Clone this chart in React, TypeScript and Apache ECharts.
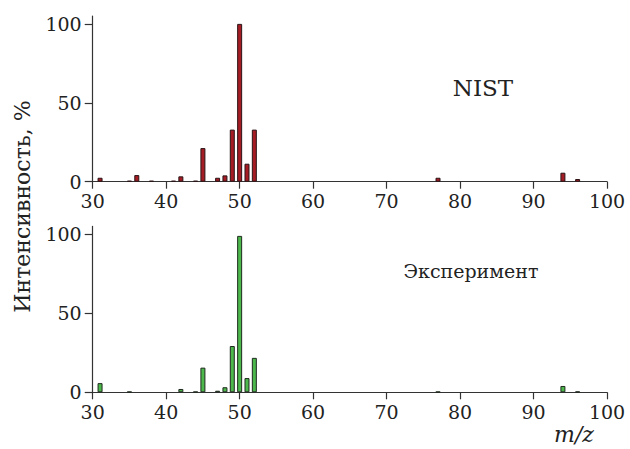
import React, { useEffect, useRef } from "react";
import * as echarts from "echarts";

const nistMz = [31, 35, 36, 38, 41, 42, 44, 45, 47, 48, 49, 50, 51, 52, 77, 94, 96];
const nistInt = [2.5, 0.6, 4.2, 0.6, 0.6, 3.4, 0.6, 21.3, 2.5, 4, 33, 100, 11.4, 33, 2.5, 5.7, 1.7];

const expMz = [31, 35, 42, 44, 45, 47, 48, 49, 50, 51, 52, 77, 94, 96];
const expInt = [5.8, 0.4, 2.1, 0.4, 15.6, 1, 3.2, 29.3, 99, 9, 21.8, 0.4, 4, 0.5];

const xTicks = [30, 40, 50, 60, 70, 80, 90, 100];
const yTicks = [0, 50, 100];

const FONT = "DejaVu Serif";
const INK = "#222";

export default function App() {
  const ref = useRef<HTMLDivElement>(null);
  useEffect(() => {
    const chart = echarts.init(ref.current!, null, { renderer: "svg" });
    const xAxisBase = (gridIndex: number) => ({
      type: "value" as const,
      gridIndex,
      min: xTicks[0],
      max: xTicks[xTicks.length - 1],
      interval: 10,
      axisLine: { onZero: false, lineStyle: { color: "#333", width: 1.2 } },
      axisTick: { length: 7, lineStyle: { color: "#333", width: 1.2 } },
      axisLabel: { fontFamily: FONT, fontSize: 19, color: INK, margin: 10 },
      splitLine: { show: false },
    });
    const yAxisBase = (gridIndex: number) => ({
      type: "value" as const,
      gridIndex,
      min: 0,
      max: 105,
      axisLine: { show: true, lineStyle: { color: "#333", width: 1.2 } },
      axisTick: { show: true, length: 8, customValues: yTicks, lineStyle: { color: "#333", width: 1.2 } },
      axisLabel: { fontFamily: FONT, fontSize: 19, color: INK, margin: 11, customValues: yTicks },
      splitLine: { show: false },
    });
    chart.setOption({
      animation: false,
      backgroundColor: "#fff",
      textStyle: { fontFamily: FONT },
      grid: [
        { left: 92.7, right: 23, top: 16, height: 165.7 },
        { left: 92.7, right: 23, top: 226.4, height: 165.9 },
      ],
      xAxis: [xAxisBase(0), xAxisBase(1)],
      yAxis: [yAxisBase(0), yAxisBase(1)],
      series: [
        {
          type: "bar",
          xAxisIndex: 0,
          yAxisIndex: 0,
          barWidth: 5,
          data: nistMz.map((m, i) => [m, nistInt[i]]),
          itemStyle: { color: "#a51c24", borderColor: "#2a1416", borderWidth: 1 },
        },
        {
          type: "bar",
          xAxisIndex: 1,
          yAxisIndex: 1,
          barWidth: 5,
          data: expMz.map((m, i) => [m, expInt[i]]),
          itemStyle: { color: "#4cb84c", borderColor: "#1e2a1e", borderWidth: 1 },
        },
      ],
      graphic: [
        {
          type: "text",
          x: 22,
          y: 206.5,
          rotation: Math.PI / 2,
          style: { text: "Интенсивность, %", fontFamily: FONT, fontSize: 22, fill: INK, textAlign: "center", textVerticalAlign: "middle" },
        },
        {
          type: "text",
          x: 483,
          y: 88,
          style: { text: "NIST", fontFamily: FONT, fontSize: 23, fill: INK, textAlign: "center", textVerticalAlign: "middle" },
        },
        {
          type: "text",
          x: 471,
          y: 271,
          style: { text: "Эксперимент", fontFamily: FONT, fontSize: 19, fill: INK, textAlign: "center", textVerticalAlign: "middle" },
        },
        {
          type: "text",
          x: 574,
          y: 434,
          style: { text: "m/z", fontFamily: FONT, fontSize: 22, fontStyle: "italic", fill: INK, textAlign: "center", textVerticalAlign: "middle" },
        },
      ],
    });
    return () => chart.dispose();
  }, []);
  return <div ref={ref} style={{ width: 630, height: 449, position: "absolute", left: 0, top: 0 }} />;
}
